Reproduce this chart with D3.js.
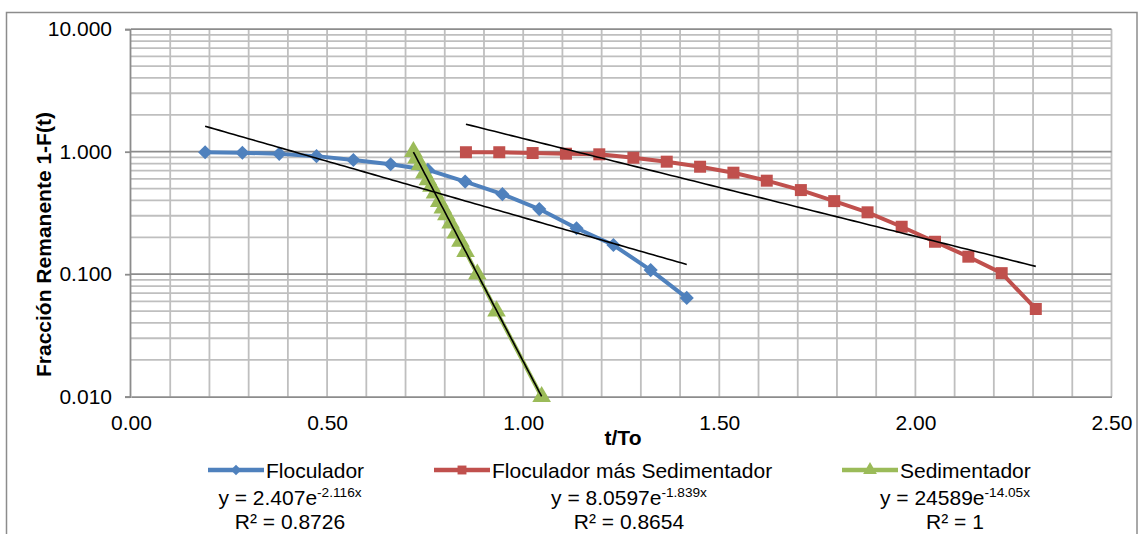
<!DOCTYPE html>
<html>
<head>
<meta charset="utf-8">
<script src="https://cdn.jsdelivr.net/npm/d3@7"></script>
<style>
  html, body { margin: 0; padding: 0; background: #fff; }
  svg { display: block; }
  text { font-family: "Liberation Sans", Arial, sans-serif; fill: #000; }
</style>
</head>
<body>
<svg id="chart" width="1141" height="534"></svg>
<script>
// ---------- data ----------
const seriesNames = ["Floculador", "Floculador más Sedimentador", "Sedimentador"];

const flocX = [0.189, 0.284, 0.378, 0.473, 0.567, 0.662, 0.757, 0.852, 0.947, 1.041, 1.136, 1.230, 1.325, 1.417];
const flocY = [0.99, 0.98, 0.96, 0.92, 0.855, 0.79, 0.71, 0.57, 0.45, 0.34, 0.237, 0.173, 0.108, 0.064];

const flocSedX = [0.854, 0.939, 1.024, 1.109, 1.194, 1.281, 1.366, 1.451, 1.536, 1.621, 1.708, 1.793, 1.878, 1.965, 2.050, 2.135, 2.220, 2.307];
const flocSedY = [0.99, 0.99, 0.975, 0.963, 0.952, 0.893, 0.829, 0.754, 0.674, 0.580, 0.486, 0.395, 0.320, 0.244, 0.184, 0.139, 0.102, 0.052];

const sedX = [0.720, 0.728, 0.737, 0.748, 0.757, 0.766, 0.775, 0.786, 0.795, 0.804, 0.815, 0.828, 0.840, 0.853, 0.883, 0.932, 1.047];
const sedY = [1.00, 0.885, 0.782, 0.667, 0.590, 0.520, 0.458, 0.392, 0.346, 0.305, 0.261, 0.216, 0.185, 0.153, 0.100, 0.050, 0.010];

// trendline labels printed on the chart: y = a·e^(b·x)
const trendA = [2.407, 8.0597, 24589];
const trendB = [-2.116, -1.839, -14.05];
const trendAText = ["2.407", "8.0597", "24589"];
const trendBText = ["-2.116x", "-1.839x", "-14.05x"];
const trendR2 = ["0.8726", "0.8654", "1"];

const xTicks = [0, 0.5, 1.0, 1.5, 2.0, 2.5];
const yTicks = [0.01, 0.1, 1, 10];

const colors = ["#4F81BD", "#C0504D", "#9BBB59"];

// ---------- layout ----------
const svg = d3.select("#chart");
const FONT = 21;
const plot = { left: 131, right: 1111.5, top: 29.2, bottom: 396.7 };

const x = d3.scaleLinear().domain([0, 2.5]).range([plot.left, plot.right]);
const y = d3.scaleLog().domain([0.01, 10]).range([plot.bottom, plot.top]);

// outer chart border
svg.append("rect")
  .attr("x", 6.5).attr("y", 12.5)
  .attr("width", 1130.5).attr("height", 540)
  .attr("fill", "none").attr("stroke", "#8C8C8C").attr("stroke-width", 1.5);

// gridlines
const grid = svg.append("g");
const vGrid = d3.range(1, 26).map(i => i / 10);
grid.selectAll(".vg").data(vGrid).enter().append("line")
  .attr("x1", d => x(d)).attr("x2", d => x(d))
  .attr("y1", plot.top).attr("y2", plot.bottom)
  .attr("stroke", "#BFBFBF").attr("stroke-width", 1.8);

const minorY = [];
[0.01, 0.1, 1].forEach(dec => { for (let k = 2; k <= 9; k++) minorY.push(dec * k); });
grid.selectAll(".hm").data(minorY).enter().append("line")
  .attr("x1", plot.left).attr("x2", plot.right)
  .attr("y1", d => y(d)).attr("y2", d => y(d))
  .attr("stroke", "#BFBFBF").attr("stroke-width", 1.8);
grid.selectAll(".hM").data(yTicks.slice(1)).enter().append("line")
  .attr("x1", plot.left).attr("x2", plot.right)
  .attr("y1", d => y(d)).attr("y2", d => y(d))
  .attr("stroke", "#8C8C8C").attr("stroke-width", 1.8);

// axes
const yAxis = d3.axisLeft(y).tickValues(yTicks).tickFormat(d3.format(".3f"))
  .tickSize(5).tickPadding(13);
const gy = svg.append("g").attr("transform", `translate(${plot.left - 1},0)`).call(yAxis);
const xAxis = d3.axisBottom(x).tickValues(xTicks).tickFormat(d3.format(".2f"))
  .tickSize(0).tickPadding(18);
const gx = svg.append("g").attr("transform", `translate(0,${plot.bottom})`).call(xAxis);
[gx, gy].forEach(g => {
  g.select(".domain").attr("stroke", "#8C8C8C").attr("stroke-width", 1.8);
  g.selectAll(".tick line").attr("stroke", "#8C8C8C").attr("stroke-width", 1.8);
  g.selectAll(".tick text").attr("font-size", FONT)
    .attr("font-family", '"Liberation Sans", Arial, sans-serif').attr("fill", "#000");
});

// axis titles
svg.append("text")
  .attr("transform", "translate(51,377) rotate(-90)")
  .attr("text-anchor", "start").attr("font-size", FONT).attr("font-weight", "bold")
  .text("Fracción Remanente 1-F(t)");
svg.append("text")
  .attr("x", 623).attr("y", 445)
  .attr("text-anchor", "middle").attr("font-size", FONT).attr("font-weight", "bold")
  .text("t/To");

// series (diamond = square rotated 45°)
const series = [
  { xs: flocX, ys: flocY, shape: d3.symbolSquare, size: 100, rot: 45 },
  { xs: flocSedX, ys: flocSedY, shape: d3.symbolSquare, size: 144, rot: 0 },
  { xs: sedX, ys: sedY, shape: d3.symbolTriangle, size: 150, rot: 0 }
];
const line = d3.line().x(d => x(d[0])).y(d => y(d[1]));

series.forEach((s, i) => {
  const pts = s.xs.map((v, j) => [v, s.ys[j]]);
  const g = svg.append("g");
  g.append("path").datum(pts).attr("d", line)
    .attr("fill", "none").attr("stroke", colors[i]).attr("stroke-width", 4)
    .attr("stroke-linejoin", "round");
  g.selectAll("path.m").data(pts).enter().append("path")
    .attr("class", "m")
    .attr("d", d3.symbol().type(s.shape).size(s.size))
    .attr("transform", d => `translate(${x(d[0])},${y(d[1])}) rotate(${s.rot})`)
    .attr("fill", colors[i]);
});

// exponential trendlines
series.forEach((s, i) => {
  const x0 = d3.min(s.xs), x1 = d3.max(s.xs);
  const pts = d3.range(0, 101).map(k => {
    const xv = x0 + (x1 - x0) * k / 100;
    return [xv, trendA[i] * Math.exp(trendB[i] * xv)];
  });
  svg.append("path").datum(pts).attr("d", line)
    .attr("fill", "none").attr("stroke", "#000").attr("stroke-width", 1.6);
});

// legend
const legendX = [208, 434, 842];
const eqCenter = [290, 629, 955];
series.forEach((s, i) => {
  const lx = legendX[i];
  const g = svg.append("g");
  g.append("line").attr("x1", lx).attr("x2", lx + 56).attr("y1", 470).attr("y2", 470)
    .attr("stroke", colors[i]).attr("stroke-width", 4.5);
  g.append("path").attr("d", d3.symbol().type(s.shape).size(s.size * 0.55))
    .attr("transform", `translate(${lx + 28},470) rotate(${s.rot})`).attr("fill", colors[i]);
  g.append("text").attr("x", lx + 58).attr("y", 478).attr("font-size", FONT).text(seriesNames[i]);

  const eq = svg.append("text").attr("x", eqCenter[i]).attr("y", 505)
    .attr("text-anchor", "middle").attr("font-size", FONT);
  eq.append("tspan").text(`y = ${trendAText[i]}e`);
  eq.append("tspan").attr("font-size", FONT * 0.65).attr("dy", -8).text(trendBText[i]);
  svg.append("text").attr("x", eqCenter[i]).attr("y", 529)
    .attr("text-anchor", "middle").attr("font-size", FONT).text(`R² = ${trendR2[i]}`);
});
</script>
</body>
</html>
